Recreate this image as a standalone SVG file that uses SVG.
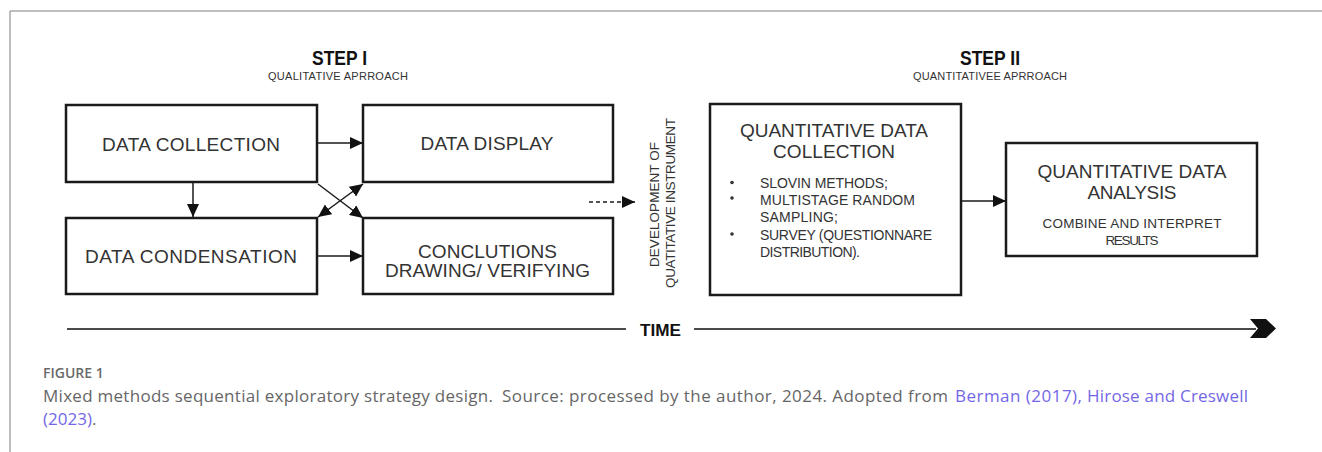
<svg xmlns="http://www.w3.org/2000/svg" width="1322" height="452" viewBox="0 0 1322 452">
<style>
.frame{stroke:#a8a8a8;stroke-width:1.5;fill:none}
.box{fill:#fff;stroke:#1a1a1a;stroke-width:2.5}
.t{font-family:"Liberation Sans",Arial,sans-serif;fill:#333;text-anchor:middle}
.big{font-size:19px}
.sm{font-size:14px;text-anchor:start}
.hd{font-family:"Liberation Sans",Arial,sans-serif;font-weight:bold;font-size:20px;fill:#111;text-anchor:middle}
.sub{font-family:"Liberation Sans",Arial,sans-serif;font-size:11px;fill:#333;text-anchor:middle}
.conn{stroke:#1a1a1a;stroke-width:1.5;fill:none}
.dash{stroke-dasharray:4 3}
.axis{stroke:#4a4a4a;stroke-width:2;fill:none}
.cap{font-family:"Open Sans","Liberation Sans",sans-serif;font-size:17px;fill:#666}
.fig{font-family:"Open Sans","Liberation Sans",sans-serif;font-size:14px;font-weight:600;fill:#6a6a6a}
.lnk{fill:#7467e6}
</style>
<defs>
<marker id="ah" markerUnits="userSpaceOnUse" markerWidth="14" markerHeight="14" refX="13" refY="6" orient="auto-start-reverse">
<path d="M0,0 L13,6 L0,12 z" fill="#111"/>
</marker>
</defs>

<g id="frame">
<line class="frame" x1="10" y1="11" x2="1322" y2="11"/>
<line class="frame" x1="10" y1="11" x2="10" y2="452"/>
</g>

<g id="step1-header">
<text class="hd" x="339.5" y="65" textLength="55" lengthAdjust="spacingAndGlyphs">STEP I</text>
<text class="sub" x="338" y="80" textLength="140">QUALITATIVE APRROACH</text>
</g>
<g id="step2-header">
<text class="hd" x="990" y="65" textLength="60" lengthAdjust="spacingAndGlyphs">STEP II</text>
<text class="sub" x="990" y="80" textLength="154">QUANTITATIVEE APRROACH</text>
</g>

<g id="node-data-collection">
<rect class="box" x="66" y="105" width="251" height="77"/>
<text class="t big" x="191" y="151" textLength="178">DATA COLLECTION</text>
</g>
<g id="node-data-condensation">
<rect class="box" x="66" y="218" width="251" height="76"/>
<text class="t big" x="191" y="263" textLength="212">DATA CONDENSATION</text>
</g>
<g id="node-data-display">
<rect class="box" x="363" y="105" width="250" height="77"/>
<text class="t big" x="487" y="150" textLength="133">DATA DISPLAY</text>
</g>
<g id="node-conclusions">
<rect class="box" x="363" y="218" width="250" height="76"/>
<text class="t big" x="487.5" y="258" textLength="139">CONCLUTIONS</text>
<text class="t big" x="487.5" y="277" textLength="205">DRAWING/ VERIFYING</text>
</g>

<g id="label-development">
<text class="t" style="font-size:13.5px" transform="translate(659,204.5) rotate(-90)" textLength="125">DEVELOPMENT OF</text>
<text class="t" style="font-size:13.5px" transform="translate(675,203) rotate(-90)" textLength="170">QUATITATIVE INSTRUMENT</text>
</g>

<g id="node-quant-collection">
<rect class="box" x="710" y="104" width="251" height="191"/>
<text class="t big" x="834" y="137" textLength="188">QUANTITATIVE DATA</text>
<text class="t big" x="834" y="158" textLength="122">COLLECTION</text>
<circle cx="732" cy="182.5" r="1.8" fill="#333"/>
<circle cx="732" cy="198" r="1.8" fill="#333"/>
<circle cx="732" cy="234" r="1.8" fill="#333"/>
<text class="t sm" x="760" y="188" textLength="128">SLOVIN METHODS;</text>
<text class="t sm" x="760" y="205" textLength="155">MULTISTAGE RANDOM</text>
<text class="t sm" x="760" y="222" textLength="78">SAMPLING;</text>
<text class="t sm" x="760" y="240" textLength="172">SURVEY (QUESTIONNARE</text>
<text class="t sm" x="760" y="257" textLength="100">DISTRIBUTION).</text>
</g>

<g id="node-quant-analysis">
<rect class="box" x="1006" y="143" width="251" height="113"/>
<text class="t big" x="1132" y="178" textLength="189">QUANTITATIVE DATA</text>
<text class="t big" x="1132" y="199" textLength="89">ANALYSIS</text>
<text class="t" style="font-size:13.5px" x="1132" y="228" textLength="179">COMBINE AND INTERPRET</text>
<text class="t" style="font-size:13.5px" x="1132" y="245" textLength="53">RESULTS</text>
</g>

<g id="connectors">
<line class="conn" x1="318" y1="143" x2="363" y2="143" marker-end="url(#ah)"/>
<line class="conn" x1="318" y1="256" x2="363" y2="256" marker-end="url(#ah)"/>
<line class="conn" x1="193" y1="183" x2="193" y2="217" marker-end="url(#ah)"/>
<line class="conn" x1="318" y1="184" x2="363" y2="218" marker-end="url(#ah)"/>
<line class="conn" x1="318" y1="217" x2="363" y2="184" marker-start="url(#ah)" marker-end="url(#ah)"/>
<line class="conn dash" x1="589" y1="202" x2="635" y2="202" marker-end="url(#ah)"/>
<line class="conn" x1="962" y1="201" x2="1006" y2="201" marker-end="url(#ah)"/>
</g>

<g id="time-axis">
<line class="axis" x1="67" y1="329" x2="626" y2="329"/>
<text x="640" y="336" style="font-family:'Liberation Sans',Arial,sans-serif;font-weight:bold;font-size:17px;fill:#111" textLength="41" lengthAdjust="spacingAndGlyphs">TIME</text>
<line class="axis" x1="694" y1="329" x2="1256" y2="329"/>
<polygon points="1250,319 1266,319 1276,328.5 1266,338 1250,338 1258,328.5" fill="#111"/>
</g>

<g id="caption">
<text class="fig" x="43" y="378">FIGURE 1</text>
<text class="cap" y="402"><tspan x="43" textLength="450">Mixed methods sequential exploratory strategy design.</tspan><tspan x="502" textLength="446">Source: processed by the author, 2024. Adopted from</tspan><tspan class="lnk" x="955" textLength="127">Berman (2017),</tspan><tspan class="lnk" x="1087" textLength="161">Hirose and Creswell</tspan></text>
<text class="cap" y="425"><tspan class="lnk" x="43">(2023)</tspan>.</text>
</g>
</svg>
